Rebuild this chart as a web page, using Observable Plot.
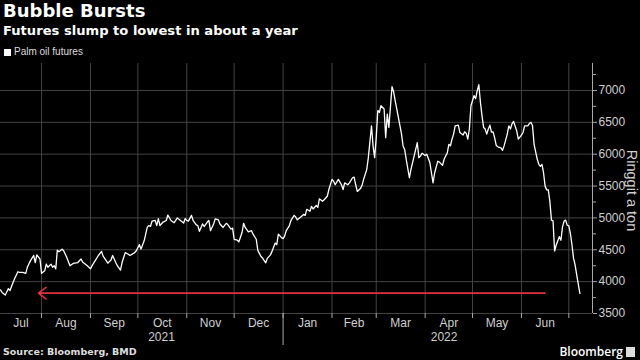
<!DOCTYPE html>
<html><head><meta charset="utf-8">
<script src="https://cdn.jsdelivr.net/npm/d3@7"></script>
<script src="https://cdn.jsdelivr.net/npm/@observablehq/plot@0.6"></script>
<style>
html,body{margin:0;padding:0;background:#000;}
#wrap{position:relative;width:640px;height:360px;overflow:hidden;background:#000;}
#title{position:absolute;left:3px;top:0px;color:#fff;font:bold 18px "DejaVu Sans",sans-serif;white-space:nowrap;}
#subtitle{position:absolute;left:3px;top:23px;color:#fff;font:bold 13.1px "DejaVu Sans",sans-serif;white-space:nowrap;}
#legend{position:absolute;left:4px;top:46px;color:#ddd;font:10px "Liberation Sans Narrow","Liberation Sans",sans-serif;white-space:nowrap;}
#legend span.sw{display:inline-block;width:7px;height:7px;background:#fff;margin-right:3px;vertical-align:-0.5px;}
#chart{position:absolute;left:0;top:60px;}
#source{position:absolute;left:3px;top:346px;color:#ddd;font:bold 9.5px "DejaVu Sans",sans-serif;white-space:nowrap;}
#brand{position:absolute;right:5px;top:343px;color:#fff;font:600 12px "Open Sans",sans-serif;white-space:nowrap;}
#brand span.ic{display:inline-block;width:9px;height:10px;background:#ddd;margin-left:3px;vertical-align:-1px;}
</style></head>
<body>
<div id="wrap">
  <div id="title">Bubble Bursts</div>
  <div id="subtitle">Futures slump to lowest in about a year</div>
  <div id="legend"><span class="sw"></span>Palm oil futures</div>
  <div id="chart"></div>
  <div id="source">Source: Bloomberg, BMD</div>
  <div id="brand">Bloomberg<span class="ic"></span></div>
</div>
<script>
const dates = [
"2021-07-06","2021-07-07","2021-07-09","2021-07-11","2021-07-12","2021-07-14","2021-07-15","2021-07-17","2021-07-18","2021-07-20",
"2021-07-22","2021-07-23","2021-07-25","2021-07-27","2021-07-28","2021-07-29","2021-07-31","2021-08-01","2021-08-03","2021-08-04",
"2021-08-05","2021-08-07","2021-08-08","2021-08-09","2021-08-10","2021-08-11","2021-08-12","2021-08-14","2021-08-15","2021-08-17",
"2021-08-19","2021-08-21","2021-08-24","2021-08-26","2021-08-27","2021-08-30","2021-09-01","2021-09-02","2021-09-04","2021-09-06",
"2021-09-08","2021-09-09","2021-09-12","2021-09-14","2021-09-15","2021-09-17","2021-09-18","2021-09-20","2021-09-21","2021-09-23",
"2021-09-25","2021-09-26","2021-09-29","2021-09-30","2021-10-02","2021-10-03","2021-10-05","2021-10-07","2021-10-08","2021-10-09",
"2021-10-10","2021-10-12","2021-10-13","2021-10-14","2021-10-15","2021-10-17","2021-10-19","2021-10-20","2021-10-22","2021-10-24",
"2021-10-25","2021-10-26","2021-10-28","2021-10-30","2021-10-31","2021-11-01","2021-11-02","2021-11-04","2021-11-05","2021-11-07",
"2021-11-08","2021-11-09","2021-11-11","2021-11-12","2021-11-14","2021-11-15","2021-11-16","2021-11-18","2021-11-19","2021-11-21",
"2021-11-22","2021-11-24","2021-11-26","2021-11-27","2021-11-29","2021-11-30","2021-12-01","2021-12-03","2021-12-04","2021-12-06",
"2021-12-07","2021-12-08","2021-12-10","2021-12-12","2021-12-13","2021-12-15","2021-12-16","2021-12-18","2021-12-19","2021-12-21",
"2021-12-22","2021-12-24","2021-12-25","2021-12-27","2021-12-28","2021-12-29","2021-12-31","2022-01-01","2022-01-02","2022-01-03",
"2022-01-05","2022-01-06","2022-01-08","2022-01-09","2022-01-10","2022-01-12","2022-01-14","2022-01-15","2022-01-16","2022-01-18",
"2022-01-19","2022-01-20","2022-01-22","2022-01-23","2022-01-24","2022-01-26","2022-01-27","2022-01-29","2022-01-30","2022-02-01",
"2022-02-02","2022-02-03","2022-02-05","2022-02-07","2022-02-08","2022-02-09","2022-02-11","2022-02-12","2022-02-14","2022-02-15",
"2022-02-16","2022-02-17","2022-02-19","2022-02-20","2022-02-21","2022-02-23","2022-02-24","2022-02-26","2022-02-27","2022-02-28",
"2022-03-01","2022-03-02","2022-03-03","2022-03-04","2022-03-06","2022-03-07","2022-03-08","2022-03-09","2022-03-11","2022-03-12",
"2022-03-13","2022-03-15","2022-03-17","2022-03-18","2022-03-19","2022-03-20","2022-03-22","2022-03-23","2022-03-25","2022-03-27",
"2022-03-28","2022-03-29","2022-03-30","2022-04-01","2022-04-02","2022-04-04","2022-04-05","2022-04-06","2022-04-07","2022-04-09",
"2022-04-10","2022-04-12","2022-04-13","2022-04-15","2022-04-16","2022-04-17","2022-04-18","2022-04-19","2022-04-20","2022-04-22",
"2022-04-23","2022-04-25","2022-04-26","2022-04-27","2022-04-28","2022-04-29","2022-04-30","2022-05-02","2022-05-03","2022-05-04",
"2022-05-05","2022-05-06","2022-05-07","2022-05-08","2022-05-09","2022-05-10","2022-05-11","2022-05-12","2022-05-13","2022-05-14",
"2022-05-15","2022-05-16","2022-05-17","2022-05-19","2022-05-20","2022-05-21","2022-05-23","2022-05-24","2022-05-25","2022-05-26",
"2022-05-27","2022-05-29","2022-05-30","2022-06-01","2022-06-02","2022-06-03","2022-06-05","2022-06-06","2022-06-07","2022-06-08",
"2022-06-09","2022-06-11","2022-06-12","2022-06-13","2022-06-14","2022-06-15","2022-06-16","2022-06-17","2022-06-18","2022-06-19",
"2022-06-20","2022-06-21","2022-06-22","2022-06-23","2022-06-25","2022-06-26","2022-06-27","2022-06-28","2022-06-29","2022-06-30",
"2022-07-01","2022-07-02","2022-07-03","2022-07-04","2022-07-05","2022-07-06","2022-07-08"
];
const prices = [
3870,3830,3790,3890,3860,3990,4050,4155,4145,4145,
4130,4225,4330,4410,4300,4420,4355,4130,4170,4275,
4225,4275,4225,4250,4200,4495,4470,4510,4485,4380,
4250,4285,4300,4355,4310,4250,4200,4250,4330,4410,
4475,4400,4290,4340,4410,4300,4250,4180,4300,4455,
4430,4410,4455,4485,4580,4510,4640,4855,4880,4865,
4950,4960,4880,4990,4880,4935,4960,5045,4960,4925,
4960,5000,4960,4920,4990,4960,4950,5040,4960,4890,
4880,4790,4905,4865,4935,4960,4800,4905,4985,4970,
4905,4850,4915,4895,4825,4840,4665,4650,4625,4770,
4915,4850,4780,4800,4745,4665,4490,4395,4370,4295,
4365,4420,4475,4605,4580,4745,4690,4675,4715,4800,
4880,4960,5040,5015,4970,5010,5055,5040,5135,5105,
5180,5140,5195,5165,5300,5260,5285,5340,5445,5605,
5575,5520,5605,5520,5445,5550,5520,5550,5630,5640,
5520,5415,5460,5510,5605,5760,5945,6445,6130,5945,
6260,6685,6655,6760,6710,6260,6630,6420,7060,6980,
6840,6580,6320,6130,6075,5920,5630,5760,5970,6180,
5945,5970,6015,5980,6000,5865,5705,5550,5705,5890,
5875,5825,5920,6020,6155,6130,6235,6315,6445,6455,
6340,6300,6350,6330,6235,6395,6760,6920,6870,7000,
7090,6815,6605,6420,6395,6315,6395,6455,6345,6350,
6260,6140,6115,6100,6060,6130,6315,6445,6395,6475,
6515,6365,6235,6300,6340,6445,6445,6480,6500,6445,
6155,5920,5840,5810,5840,5705,5495,5440,5440,5255,
4965,4955,4480,4575,4705,4650,4860,4950,4965,4885,
4875,4755,4575,4365,4260,4105,3815
];
const yTicks = [3500, 4000, 4500, 5000, 5500, 6000, 6500, 7000];
const yMinorTicks = [3750, 4250, 4750, 5250, 5750, 6250, 6750, 7250];
const monthLabels = ["Jul","Aug","Sep","Oct","Nov","Dec","Jan","Feb","Mar","Apr","May","Jun"];
const yearLabels = ["2021", "2022"];
const yearLabelDates = ["2021-10-16", "2022-04-13"];
const arrowFrom = ["2022-06-16"];
const arrowTo = ["2021-07-30"];
const arrowLevel = [3820];
const axisLabel = "Ringgit a ton";

const xStart = new Date("2021-07-06"), xEnd = new Date("2022-07-16");
const data = dates.map((d, i) => ({date: new Date(d), price: prices[i]}));
const monthStarts = d3.utcMonth.range(d3.utcMonth.ceil(xStart), xEnd);
const labelMonths = d3.utcMonth.range(d3.utcMonth.floor(xStart), d3.utcMonth.floor(xEnd));
const monthMids = labelMonths.map(m => {
  const a = Math.max(+m, +xStart), b = Math.min(+d3.utcMonth.offset(m, 1), +xEnd);
  return new Date((a + b) / 2);
});
const yearStart = [new Date("2022-01-01")];
const arrows = arrowFrom.map((d, i) => ({x1: new Date(d), x2: new Date(arrowTo[i]), y: arrowLevel[i]}));

const FONT = '"Liberation Sans Narrow","Liberation Sans",sans-serif';
const GRID = "#434343";
const AXIS = "#a8a8a8";
const TXT = "#cfcfcf";

const chart = Plot.plot({
  width: 640, height: 285,
  marginTop: 3, marginBottom: 32, marginLeft: 0, marginRight: 48,
  style: {background: "transparent", color: TXT, fontFamily: FONT, fontSize: "12px", overflow: "visible"},
  x: {type: "utc", domain: [xStart, xEnd], axis: null},
  y: {domain: [3500, 7423], axis: null},
  marks: [
    Plot.ruleY(yTicks, {stroke: GRID, strokeWidth: 1}),
    Plot.ruleX(monthStarts, {stroke: GRID, strokeWidth: 1}),
    Plot.axisX(monthStarts, {tickSize: 5, stroke: AXIS, tickFormat: () => ""}),
    Plot.axisX(yearStart, {tickSize: 32, stroke: AXIS, tickFormat: () => ""}),
    Plot.text(monthMids, {x: d => d, text: (d, i) => monthLabels[i], frameAnchor: "bottom", dy: 13, fill: TXT, fontSize: 12}),
    Plot.text(yearLabels, {x: (d, i) => new Date(yearLabelDates[i]), text: d => d, frameAnchor: "bottom", dy: 27.5, fill: TXT, fontSize: 12}),
    Plot.ruleX([xEnd], {stroke: AXIS}),
    Plot.axisY(yTicks, {anchor: "right", tickSize: 4, tickPadding: 2, stroke: AXIS, fill: TXT, fontSize: 12, label: null, tickFormat: d => String(d)}),
    Plot.axisY(yMinorTicks, {anchor: "right", tickSize: 3, stroke: AXIS, tickFormat: () => "", label: null}),
    Plot.text([axisLabel], {frameAnchor: "right", textAnchor: "middle", rotate: 90, dx: 39, dy: 2, fill: TXT, fontSize: 14.5, text: d => d}),
    Plot.arrow(arrows, {x1: "x1", x2: "x2", y1: "y", y2: "y", stroke: "#e0313e", strokeWidth: 1.6, headLength: 9, headAngle: 75}),
    Plot.line(data, {x: "date", y: "price", stroke: "#ffffff", strokeWidth: 1.3})
  ]
});
document.getElementById("chart").appendChild(chart);
</script>
</body></html>
